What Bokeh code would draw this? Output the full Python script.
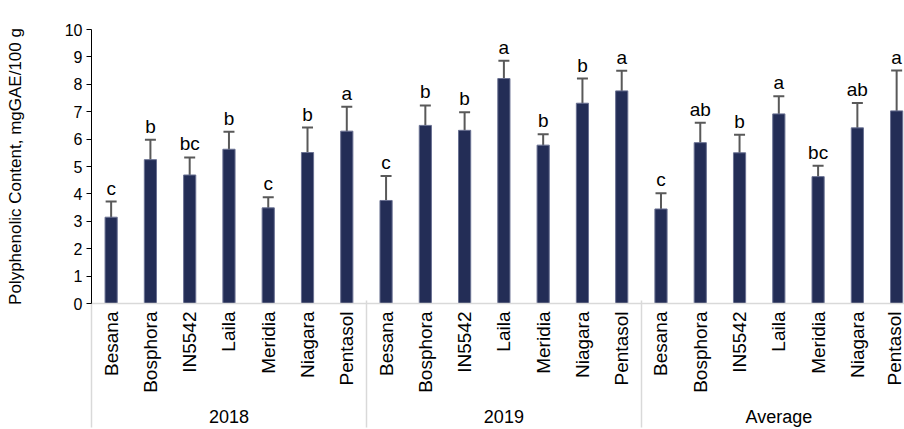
import math
from bokeh.plotting import figure
from bokeh.models import (ColumnDataSource, Range1d, FixedTicker, LinearAxis,
                          Whisker, TeeHead)
from bokeh.core.properties import value
from bokeh.embed import file_html
from bokeh.resources import INLINE

# ---------------- data ----------------
years = ["2018", "2019", "Average"]
cultivars = ["Besana", "Bosphora", "IN5542", "Laila", "Meridia", "Niagara", "Pentasol"]

mean_2018 = [3.15, 5.25, 4.69, 5.63, 3.49, 5.51, 6.29]
err_2018 = [0.57, 0.73, 0.64, 0.64, 0.39, 0.91, 0.89]
letters_2018 = ["c", "b", "bc", "b", "c", "b", "a"]

mean_2019 = [3.76, 6.50, 6.32, 8.21, 5.78, 7.31, 7.76]
err_2019 = [0.89, 0.73, 0.66, 0.65, 0.40, 0.90, 0.73]
letters_2019 = ["c", "b", "b", "a", "b", "b", "a"]

mean_avg = [3.45, 5.87, 5.50, 6.92, 4.63, 6.41, 7.03]
err_avg = [0.57, 0.73, 0.66, 0.64, 0.40, 0.91, 1.47]
letters_avg = ["c", "ab", "b", "a", "bc", "ab", "a"]

y_ticks = [0, 1, 2, 3, 4, 5, 6, 7, 8, 9, 10]
y_title = "Polyphenolic Content, mgGAE/100 g"

# ---------------- build table ----------------
means = [mean_2018, mean_2019, mean_avg]
errs = [err_2018, err_2019, err_avg]
lets = [letters_2018, letters_2019, letters_avg]
n = len(cultivars)

xs, tops, ups, los, labs, names = [], [], [], [], [], []
for gi, yr in enumerate(years):
    for ci, cv in enumerate(cultivars):
        xs.append(gi * n + ci + 0.5)
        m = means[gi][ci]
        e = errs[gi][ci]
        tops.append(m)
        ups.append(m + e)
        los.append(m - e)
        labs.append(lets[gi][ci])
        names.append(cv)

src = ColumnDataSource(dict(x=xs, top=tops, upper=ups, lower=los, lab=labs))

FONT = "Liberation Sans"

p = figure(width=904, height=429, output_backend="svg", toolbar_location=None,
           x_range=Range1d(0, 20.7), y_range=Range1d(0, 10),
           min_border_left=91, min_border_right=0, min_border_top=29,
           min_border_bottom=0, x_axis_location=None)
p.outline_line_color = None
p.xgrid.visible = False
p.ygrid.visible = False
p.background_fill_color = "white"
p.border_fill_color = "white"

p.vbar(x="x", top="top", width=0.31, bottom=0, source=src,
       fill_color="#232D56", line_color="#6A7192", line_width=1)

w = Whisker(source=src, base="x", upper="upper", lower="lower",
            line_color="#595959", line_width=2,
            upper_head=TeeHead(size=11, line_color="#595959", line_width=2),
            lower_head=TeeHead(size=11, line_color="#595959", line_width=2))
p.add_layout(w)

p.text(x="x", y="upper", text="lab", source=src, text_align="center",
       text_baseline="bottom", y_offset=-3, text_font=value(FONT),
       text_font_size="19px", text_color="#000000")

# y axis
ya = p.yaxis[0]
ya.ticker = FixedTicker(ticks=y_ticks)
ya.axis_label = y_title
ya.axis_label_text_font = FONT
ya.axis_label_text_font_size = "17px"
ya.axis_label_text_font_style = "normal"
ya.axis_label_text_color = "#000000"
ya.axis_label_standoff = 37
ya.major_label_text_font = FONT
ya.major_label_text_font_size = "16px"
ya.major_label_text_color = "#000000"
ya.major_label_standoff = 4
ya.axis_line_color = "#000000"
ya.major_tick_line_color = "#000000"
ya.major_tick_in = 0
ya.major_tick_out = 5
ya.minor_tick_line_color = None

# x axis: cultivar labels
cat_ticks = xs
xa = LinearAxis(ticker=FixedTicker(ticks=cat_ticks, minor_ticks=[]))
xa.major_label_overrides = {x: nm for x, nm in zip(cat_ticks, names)}
xa.major_label_orientation = math.pi / 2
xa.major_label_text_font = FONT
xa.major_label_text_font_size = "19px"
xa.major_label_text_color = "#000000"
xa.major_label_standoff = 8
xa.axis_line_color = "#D9D9D9"
xa.axis_line_width = 1.5
xa.major_tick_line_color = None
xa.minor_tick_line_color = None
xa.major_tick_out = 0
xa.major_tick_in = 0
p.add_layout(xa, "below")

# x axis: group labels + group separators (minor ticks)
grp_ticks = [gi * n + n / 2 for gi in range(len(years))]
sep_ticks = [gi * n for gi in range(len(years) + 1)]
ga = LinearAxis(ticker=FixedTicker(ticks=grp_ticks, minor_ticks=sep_ticks))
ga.major_label_overrides = {x: yr for x, yr in zip(grp_ticks, years)}
ga.major_label_text_font = FONT
ga.major_label_text_font_size = "18px"
ga.major_label_text_color = "#000000"
ga.major_label_standoff = -21
ga.axis_line_color = None
ga.major_tick_line_color = None
ga.major_tick_in = 0
ga.major_tick_out = 0
ga.minor_tick_line_color = "#D9D9D9"
ga.minor_tick_line_width = 1.5
ga.minor_tick_in = 95
ga.minor_tick_out = 32
p.add_layout(ga, "below")

open("out.html", "w").write(file_html(p, INLINE))
